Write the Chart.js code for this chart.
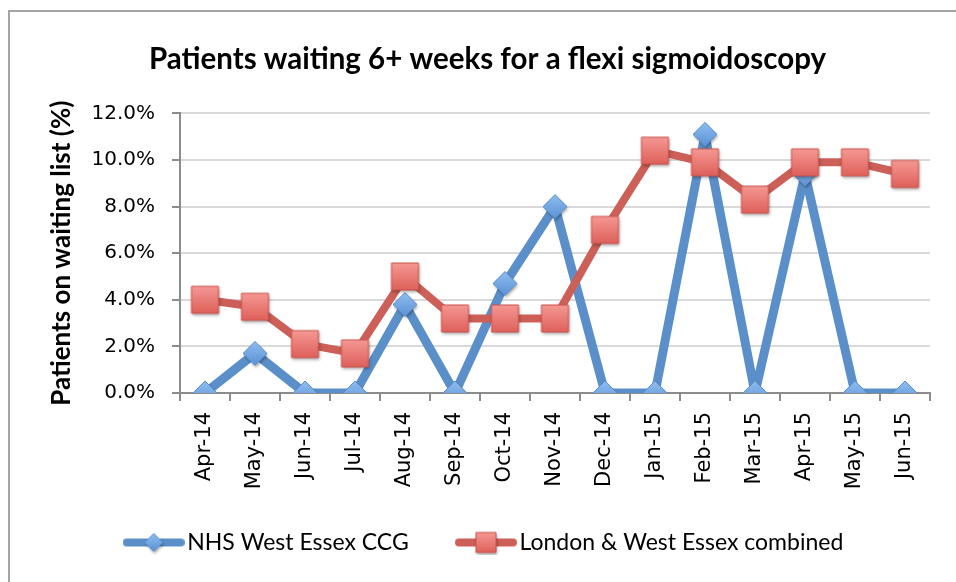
<!DOCTYPE html>
<html>
<head>
<meta charset="utf-8">
<script src="https://cdn.jsdelivr.net/npm/chart.js@4"></script>
<style>
  html, body { margin: 0; padding: 0; background: #fff; }
  #wrap { position: relative; width: 956px; height: 582px; overflow: hidden; }
  /* cadre gris du graphique (haut + gauche) */
  #frame { position: absolute; left: 8px; top: 10px; width: 1200px; height: 800px;
           border-top: 2px solid #a3a3a3; border-left: 2px solid #a3a3a3; }
  canvas { position: absolute; left: 0; top: 0; }
</style>
</head>
<body>
<div id="wrap">
  <div id="frame"></div>
  <canvas id="chart" width="956" height="582"></canvas>
</div>
<script>
// Données
const months = ['Apr-14', 'May-14', 'Jun-14', 'Jul-14', 'Aug-14', 'Sep-14', 'Oct-14', 'Nov-14',
                'Dec-14', 'Jan-15', 'Feb-15', 'Mar-15', 'Apr-15', 'May-15', 'Jun-15'];
const westEssex = [0, 1.7, 0, 0, 3.8, 0, 4.7, 8.0, 0, 0, 11.1, 0, 9.4, 0, 0];
const combined = [4.0, 3.7, 2.1, 1.7, 5.0, 3.2, 3.2, 3.2, 7.0, 10.4, 9.9, 8.3, 9.9, 9.9, 9.4];
const seriesNames = ['NHS West Essex CCG', 'London & West Essex combined'];
const yTicks = [0, 2, 4, 6, 8, 10, 12];

const BLUE_LINE = '#5b8fc9';
const RED_LINE = '#cc5f58';

// Marqueurs façon Excel : dégradé + ombre portée
function markerImage(shape, size) {
  const c = document.createElement('canvas');
  c.width = size + 10;
  c.height = size + 10;
  const ctx = c.getContext('2d');
  const cx = c.width / 2, cy = c.height / 2, h = size / 2;
  const grad = ctx.createLinearGradient(0, cy - h, 0, cy + h);
  if (shape === 'diamond') {
    grad.addColorStop(0, '#8fbdf0');
    grad.addColorStop(1, '#5a92d6');
  } else {
    grad.addColorStop(0, '#f59893');
    grad.addColorStop(1, '#df605a');
  }
  ctx.shadowColor = 'rgba(0,0,0,0.35)';
  ctx.shadowBlur = 3;
  ctx.shadowOffsetX = 1;
  ctx.shadowOffsetY = 2;
  ctx.beginPath();
  if (shape === 'diamond') {
    ctx.moveTo(cx, cy - h); ctx.lineTo(cx + h, cy); ctx.lineTo(cx, cy + h); ctx.lineTo(cx - h, cy);
  } else {
    ctx.rect(cx - h, cy - h, size, size);
  }
  ctx.closePath();
  ctx.fillStyle = grad;
  ctx.fill();
  ctx.shadowColor = 'transparent';
  ctx.lineWidth = 1;
  ctx.strokeStyle = shape === 'diamond' ? '#5b8fc9' : '#c9524c';
  ctx.stroke();
  return c;
}
const markerBlue = markerImage('diamond', 24);
const markerRed = markerImage('square', 27);

// Petites images pour la légende (ligne + marqueur)
function legendIcon(lineColor, shape) {
  const c = document.createElement('canvas');
  c.width = 62;
  c.height = 24;
  const ctx = c.getContext('2d');
  ctx.strokeStyle = lineColor;
  ctx.lineWidth = 8;
  ctx.lineCap = 'round';
  ctx.beginPath();
  ctx.moveTo(4, 12);
  ctx.lineTo(58, 12);
  ctx.stroke();
  const m = markerImage(shape, shape === 'diamond' ? 18 : 20);
  ctx.drawImage(m, 31 - m.width / 2, 12 - m.height / 2);
  return c;
}
const iconBlue = legendIcon(BLUE_LINE, 'diamond');
const iconRed = legendIcon(RED_LINE, 'square');

new Chart(document.getElementById('chart'), {
  type: 'line',
  data: {
    labels: months,
    datasets: [
      {
        label: seriesNames[0],
        data: westEssex,
        borderColor: BLUE_LINE,
        borderWidth: 9,
        borderJoinStyle: 'round',
        borderCapStyle: 'round',
        tension: 0,
        pointStyle: markerBlue,
        order: 2
      },
      {
        label: seriesNames[1],
        data: combined,
        borderColor: RED_LINE,
        borderWidth: 8,
        borderJoinStyle: 'round',
        borderCapStyle: 'round',
        tension: 0,
        pointStyle: markerRed,
        order: 1
      }
    ]
  },
  options: {
    responsive: false,
    animation: false,
    events: [],
    layout: {
      padding: { top: 0, left: 45, right: 26, bottom: 18 }
    },
    scales: {
      x: {
        offset: true,
        grid: {
          offset: true,
          drawOnChartArea: false,
          drawTicks: true,
          tickLength: 8,
          color: '#8c8c8c',
          lineWidth: 2
        },
        border: { color: '#8c8c8c', width: 2 },
        ticks: {
          autoSkip: false,
          maxRotation: 90,
          minRotation: 90,
          padding: 11,
          color: '#000',
          font: { family: 'DejaVu Sans', size: 21 }
        },
        afterFit: function(scale) {
          scale.height = 100;
        }
      },
      y: {
        min: 0,
        max: 12,
        afterBuildTicks: function(scale) {
          scale.ticks = yTicks.map(v => ({ value: v }));
        },
        grid: {
          color: '#d9d9d9',
          lineWidth: 2,
          tickLength: 8,
          tickColor: '#8c8c8c'
        },
        border: { color: '#8c8c8c', width: 2 },
        ticks: {
          padding: 17,
          color: '#000',
          font: { family: 'DejaVu Sans', size: 20 },
          callback: function(value) {
            return value.toFixed(1) + '%';
          }
        },
        title: {
          display: true,
          text: 'Patients on waiting list (%)',
          color: '#000',
          font: { family: 'Lato', size: 26, weight: 'bold' },
          padding: { top: 1, bottom: 4 }
        },
        afterFit: function(scale) {
          scale.width = 135;
        }
      }
    },
    plugins: {
      title: {
        display: true,
        text: 'Patients waiting 6+ weeks for a flexi sigmoidoscopy',
        color: '#000',
        font: { family: 'Lato', size: 29.5, weight: 'bold' },
        padding: { top: 42, bottom: 36 }
      },
      legend: {
        position: 'bottom',
        labels: {
          usePointStyle: true,
          pointStyleWidth: 44,
          padding: 38,
          color: '#000',
          font: { family: 'Lato', size: 23 },
          sort: (a, b) => a.datasetIndex - b.datasetIndex,
          generateLabels: function(chart) {
            const icons = [iconBlue, iconRed];
            return chart.data.datasets.map((ds, i) => ({
              // espace fine en fin de premier libellé pour l'écart entre les deux entrées
              text: i === 0 ? ds.label + '\u2003' : ds.label,
              datasetIndex: i,
              pointStyle: icons[i],
              fillStyle: 'transparent',
              strokeStyle: 'transparent',
              lineWidth: 0,
              fontColor: '#000',
              hidden: false
            }));
          }
        }
      },
      tooltip: { enabled: false }
    }
  }
});
</script>
</body>
</html>
